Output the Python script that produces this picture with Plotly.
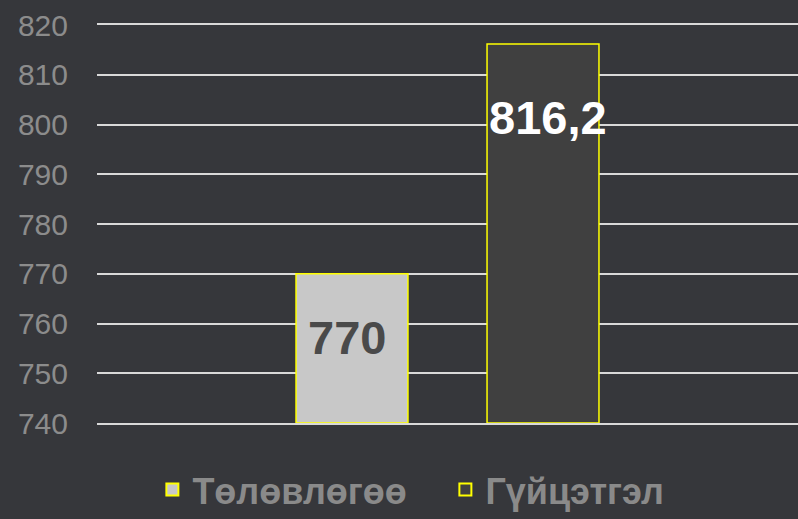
import plotly.graph_objects as go

categories = ["A"]
series_names = ["Төлөвлөгөө", "Гүйцэтгэл"]
plan_values = [770]
actual_values = [816.2]
value_labels = ["770", "816,2"]
y_ticks = [740, 750, 760, 770, 780, 790, 800, 810, 820]

BASE = 740
BG = "#36373b"
GRID = "#d9d9d9"
FONT = "Liberation Sans, Arial, sans-serif"

fig = go.Figure()
fig.add_trace(go.Bar(
    name=series_names[0], x=categories, y=[v - BASE for v in plan_values], base=BASE,
    marker=dict(color="#c8c8c8", line=dict(color="#ffff00", width=1.5)),
    hoverinfo="skip",
))
fig.add_trace(go.Bar(
    name=series_names[1], x=categories, y=[v - BASE for v in actual_values], base=BASE,
    marker=dict(color="#404040", line=dict(color="#ffff00", width=1.5)),
    hoverinfo="skip",
))

# value labels
fig.add_annotation(x=categories[0], y=plan_values[0], text="<b>" + value_labels[0] + "</b>",
                   xshift=-101, yshift=-64, showarrow=False,
                   font=dict(family=FONT, size=47, color="#4a4a4a"))
fig.add_annotation(x=categories[0], y=actual_values[0], text="<b>" + value_labels[1] + "</b>",
                   xshift=100, yshift=-74, showarrow=False,
                   font=dict(family=FONT, size=47, color="#ffffff"))

fig.update_layout(
    width=798, height=519,
    paper_bgcolor=BG, plot_bgcolor=BG,
    margin=dict(l=97, r=0, t=25, b=96, autoexpand=False),
    barmode="group", bargap=0.455, bargroupgap=0.414,
    showlegend=True,
    legend=dict(orientation="h", x=0.079, xanchor="left", y=-0.092, yanchor="top",
                font=dict(family=FONT, size=36, color="#8a8a8a", weight="bold"),
                itemsizing="constant", itemwidth=30,
                entrywidth=248, entrywidthmode="pixels"),
    xaxis=dict(showticklabels=False, showgrid=False, zeroline=False,
               showline=True, linecolor=GRID, linewidth=2, mirror=True),
    yaxis=dict(range=[740, 820], tickvals=y_ticks, showgrid=True, gridcolor=GRID,
               gridwidth=2, zeroline=False, showline=False,
               tickfont=dict(family=FONT, size=30, color="#8c8c8c"),
               ticklabelstandoff=28),
    font=dict(family=FONT),
)

fig.write_html("out.html", config={"displayModeBar": False},
               post_script="document.body.style.margin='0';document.body.style.background='" + BG + "';")
